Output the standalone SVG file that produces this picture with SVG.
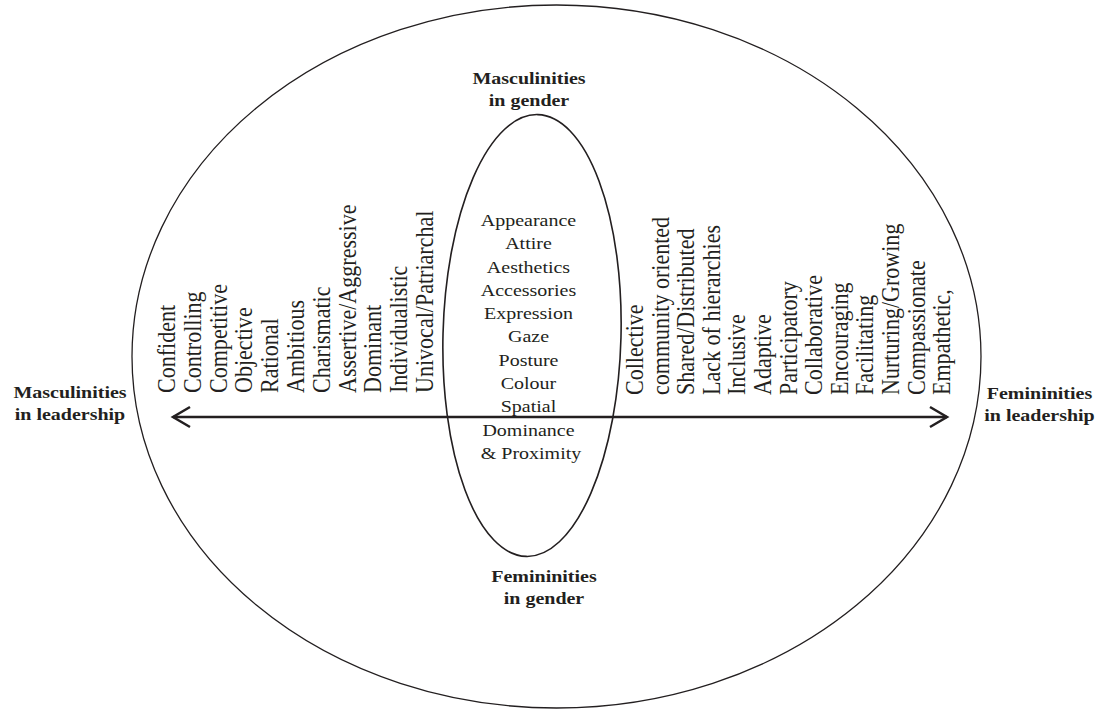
<svg xmlns="http://www.w3.org/2000/svg" width="1097" height="709" viewBox="0 0 1097 709">
  <style>
    text { font-family: "Liberation Serif", "Times New Roman", serif; fill: #231f20; }
    .trait { font-size: 24.5px; }
    .item { font-size: 20px; text-anchor: middle; }
    .lbl { font-size: 20px; font-weight: bold; text-anchor: middle; }
    .ring { fill: none; stroke: #231f20; }
    .axis { fill: none; stroke: #231f20; stroke-width: 2.5; }
  </style>
  <defs>
    <marker id="chev" viewBox="-20 -12 24 24" refX="0" refY="0" markerWidth="24" markerHeight="24" markerUnits="userSpaceOnUse" orient="auto-start-reverse">
      <path d="M -17,-10 L 0,0 L -17,10" fill="none" stroke="#231f20" stroke-width="2.5" stroke-linejoin="miter"/>
    </marker>
  </defs>
  <rect width="1097" height="709" fill="#ffffff"/>

  <!-- outer field -->
  <g id="leadership-field">
    <ellipse class="ring" cx="556.5" cy="356.5" rx="424.5" ry="351.5" stroke-width="1.3"/>
  </g>

  <!-- gender overlap ellipse with its list -->
  <g id="gender-node">
    <ellipse class="ring" cx="532" cy="335.5" rx="89" ry="221" stroke-width="1.6" transform="rotate(1.5 532 335.5)"/>
    <g transform="translate(531,226) scale(1,0.885)">
      <text class="item">
        <tspan x="0" y="0">Appearance</tspan>
        <tspan x="0" dy="26.33">Attire</tspan>
        <tspan x="0" dy="26.33">Aesthetics</tspan>
        <tspan x="0" dy="26.33">Accessories</tspan>
        <tspan x="0" dy="26.33">Expression</tspan>
        <tspan x="0" dy="26.33">Gaze</tspan>
        <tspan x="0" dy="26.33">Posture</tspan>
        <tspan x="0" dy="26.33">Colour</tspan>
        <tspan x="0" dy="26.33">Spatial</tspan>
        <tspan x="0" dy="26.33">Dominance</tspan>
        <tspan x="0" dy="26.33">&amp; Proximity</tspan>
      </text>
    </g>
  </g>

  <!-- pole labels -->
  <g id="masc-gender">
    <g transform="translate(529,84) scale(1,0.82)">
      <text class="lbl"><tspan x="0" y="0">Masculinities</tspan><tspan x="0" y="26.5">in gender</tspan></text>
    </g>
  </g>
  <g id="fem-gender">
    <g transform="translate(544,581.5) scale(1,0.82)">
      <text class="lbl"><tspan x="0" y="0">Femininities</tspan><tspan x="0" y="27">in gender</tspan></text>
    </g>
  </g>
  <g id="masc-leadership">
    <g transform="translate(70,397.5) scale(1,0.82)">
      <text class="lbl"><tspan x="0" y="0">Masculinities</tspan><tspan x="0" y="27.4">in leadership</tspan></text>
    </g>
  </g>
  <g id="fem-leadership">
    <g transform="translate(1039.5,399) scale(1,0.82)">
      <text class="lbl"><tspan x="0" y="0">Femininities</tspan><tspan x="0" y="27.4">in leadership</tspan></text>
    </g>
  </g>

  <!-- masculine leadership traits -->
  <g id="masc-traits">
    <text class="trait" transform="translate(175,393) scale(1,0.9) rotate(-90)">Confident</text>
    <text class="trait" transform="translate(200.8,393) scale(1,0.9) rotate(-90)">Controlling</text>
    <text class="trait" transform="translate(226.6,393) scale(1,0.9) rotate(-90)">Competitive</text>
    <text class="trait" transform="translate(252.4,393) scale(1,0.9) rotate(-90)">Objective</text>
    <text class="trait" transform="translate(278.2,393) scale(1,0.9) rotate(-90)">Rational</text>
    <text class="trait" transform="translate(304,393) scale(1,0.9) rotate(-90)">Ambitious</text>
    <text class="trait" transform="translate(329.8,393) scale(1,0.9) rotate(-90)">Charismatic</text>
    <text class="trait" transform="translate(355.6,393) scale(1,0.9) rotate(-90)">Assertive/Aggressive</text>
    <text class="trait" transform="translate(381.4,393) scale(1,0.9) rotate(-90)">Dominant</text>
    <text class="trait" transform="translate(407.2,393) scale(1,0.9) rotate(-90)">Individualistic</text>
    <text class="trait" transform="translate(433,393) scale(1,0.9) rotate(-90)">Univocal/Patriarchal</text>
  </g>

  <!-- feminine leadership traits -->
  <g id="fem-traits">
    <text class="trait" transform="translate(643,395) scale(1,0.9) rotate(-90)">Collective</text>
    <text class="trait" transform="translate(668.6,395) scale(1,0.9) rotate(-90)">community oriented</text>
    <text class="trait" transform="translate(694.2,395) scale(1,0.9) rotate(-90)">Shared/Distributed</text>
    <text class="trait" transform="translate(719.8,395) scale(1,0.9) rotate(-90)">Lack of hierarchies</text>
    <text class="trait" transform="translate(745.4,395) scale(1,0.9) rotate(-90)">Inclusive</text>
    <text class="trait" transform="translate(771,395) scale(1,0.9) rotate(-90)">Adaptive</text>
    <text class="trait" transform="translate(796.6,395) scale(1,0.9) rotate(-90)">Participatory</text>
    <text class="trait" transform="translate(822.2,395) scale(1,0.9) rotate(-90)">Collaborative</text>
    <text class="trait" transform="translate(847.8,395) scale(1,0.9) rotate(-90)">Encouraging</text>
    <text class="trait" transform="translate(873.4,395) scale(1,0.9) rotate(-90)">Facilitating</text>
    <text class="trait" transform="translate(899,395) scale(1,0.9) rotate(-90)">Nurturing/Growing</text>
    <text class="trait" transform="translate(924.6,395) scale(1,0.9) rotate(-90)">Compassionate</text>
    <text class="trait" transform="translate(950.2,395) scale(1,0.9) rotate(-90)">Empathetic,</text>
  </g>

  <!-- connectors -->
  <g id="connectors">
    <line class="axis" x1="173" y1="417" x2="947" y2="417" marker-start="url(#chev)" marker-end="url(#chev)"/>
  </g>
</svg>
